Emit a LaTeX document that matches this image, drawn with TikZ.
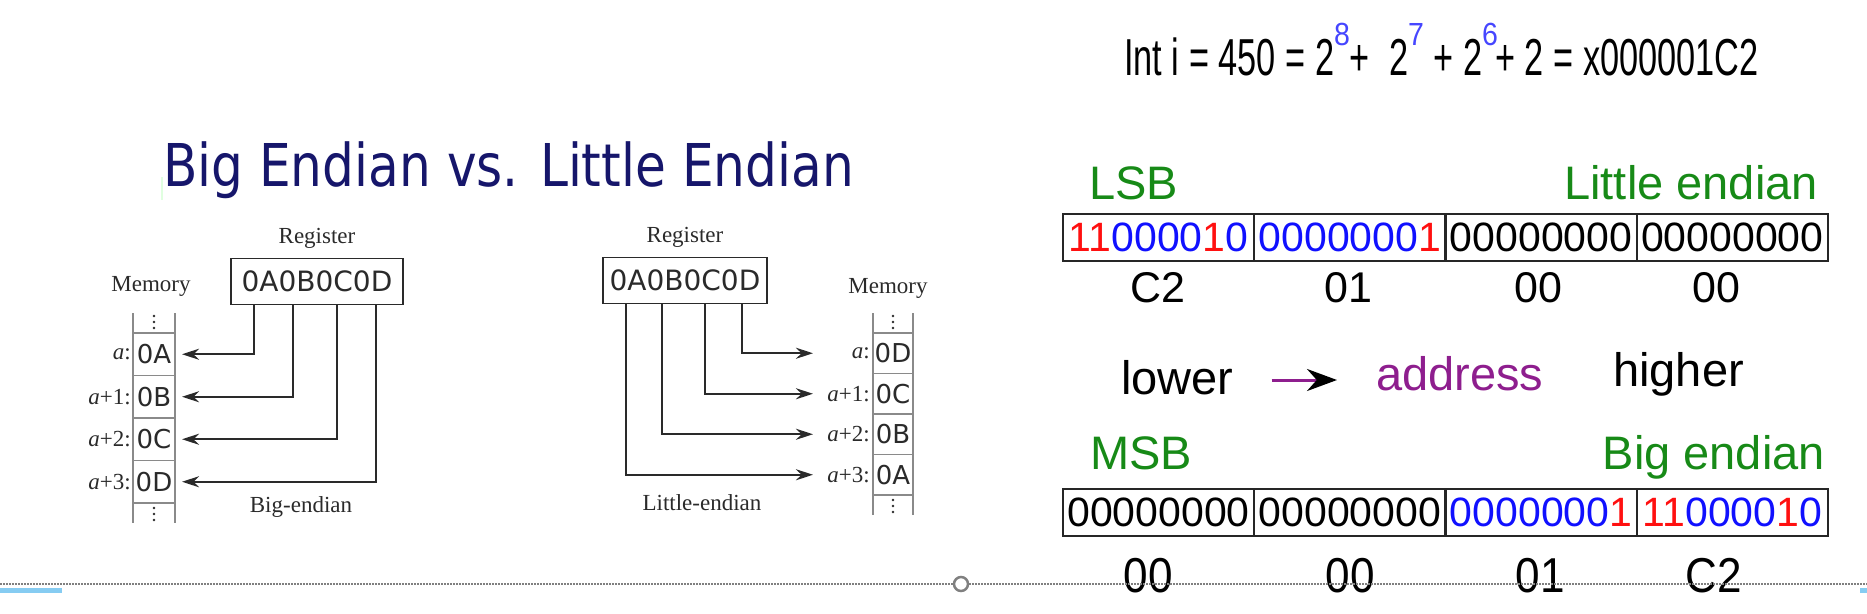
\documentclass[tikz,border=0pt]{standalone}
\usepackage{fontspec}
\setmainfont{Liberation Sans}
\newfontfamily\memfont{Liberation Serif}
\newfontfamily\hexfont{DejaVu Sans}
\usetikzlibrary{positioning, arrows.meta}
\definecolor{titlenavy}{HTML}{16166B}
\definecolor{memgray}{HTML}{8A8A8A}
\definecolor{memtext}{HTML}{2A2A2A}
\definecolor{lsbgreen}{HTML}{178A17}
\definecolor{bitred}{HTML}{FF1010}
\definecolor{bitblue}{HTML}{1010FF}
\definecolor{supblue}{HTML}{4646FF}
\definecolor{addrpurple}{HTML}{8E1E8E}
\definecolor{handleblue}{HTML}{86CCF2}
\newcommand{\fsz}[1]{\fontsize{#1}{#1}\selectfont}
\newcommand{\rd}[1]{\textcolor{bitred}{#1}}
\newcommand{\bl}[1]{\textcolor{bitblue}{#1}}
\newcommand{\pw}[1]{\raisebox{30pt}{\scalebox{1.35}[1]{\textcolor{supblue}{\fsz{32}#1}}}}
\tikzstyle{regbox} = [rectangle, draw=memtext, line width=1.4pt, fill=white, font=\hexfont\fsz{28}, text=memtext, minimum height=46pt, inner sep=0pt]
\tikzstyle{memcell} = [rectangle, draw=memgray, line width=1.3pt, font=\hexfont\fsz{26}, text=memtext, inner sep=0pt, outer sep=0pt]
\tikzstyle{memlabel} = [font=\memfont\fsz{23}, text=memtext, inner sep=0pt]
\tikzstyle{memline} = [draw=memgray, line width=1.3pt]
\tikzstyle{memdot} = [fill=memtext]
\tikzstyle{memarrow} = [draw=memtext, line width=1.6pt, -{Stealth[length=17pt,width=11pt]}]
\tikzstyle{bytecell} = [rectangle, draw=black!85, line width=2.4pt, minimum width=191.25pt, minimum height=47pt, inner sep=0pt, outer sep=0pt, font=\fsz{41}]
\tikzstyle{greenlabel} = [font=\fsz{47}, text=lsbgreen, inner sep=0pt]
\tikzstyle{hexlabel} = [font=\fsz{43}, inner sep=0pt]
\tikzstyle{bighexlabel} = [font=\fsz{49}, inner sep=0pt]
\tikzstyle{addrlabel} = [font=\fsz{47}, inner sep=0pt]
\tikzstyle{addrarrow} = [draw=addrpurple, line width=3pt, -{Stealth[length=30pt,width=22pt,color=black]}]
\begin{document}
\begin{tikzpicture}[x=1pt, y=-1pt]
    \useasboundingbox (0,0) rectangle (1867,613);
    \node[anchor=base west, inner sep=0pt, text=titlenavy] (title) at (163,186) {\scalebox{0.85}[1]{\hexfont\fsz{59}Big Endian vs. Little Endian}};
    \draw[green!12, line width=2pt] (162,177) -- (162,200);

    \node[regbox, minimum width=172pt] (bigReg) at (317,281.5) {0A0B0C0D};
    \node[memlabel, above=9pt of bigReg] (bigRegName) {Register};
    \node[memlabel] (bigMem) at (151,286) {Memory};
    \node[memcell, minimum width=42pt, minimum height=42.5pt] (bigA) at (154,354.25) {0A};
    \node[memcell, minimum width=42pt, minimum height=42.5pt, below=0pt of bigA] (bigB) {0B};
    \node[memcell, minimum width=42pt, minimum height=42.5pt, below=0pt of bigB] (bigC) {0C};
    \node[memcell, minimum width=42pt, minimum height=42.5pt, below=0pt of bigC] (bigD) {0D};
    \draw[memline] (bigA.north west) -- ++(0,-20) (bigA.north east) -- ++(0,-20);
    \draw[memline] (bigD.south west) -- ++(0,20) (bigD.south east) -- ++(0,20);
    \foreach \dy in {5,11,17} {
        \fill[memdot] ([yshift=\dy pt]bigA.north) circle (1.4pt);
        \fill[memdot] ([yshift=-\dy pt]bigD.south) circle (1.4pt);
    }
    \node[memlabel, anchor=east] at ([xshift=-2pt]bigA.west) {\textit{a}:};
    \node[memlabel, anchor=east] at ([xshift=-2pt]bigB.west) {\textit{a}+1:};
    \node[memlabel, anchor=east] at ([xshift=-2pt]bigC.west) {\textit{a}+2:};
    \node[memlabel, anchor=east] at ([xshift=-2pt]bigD.west) {\textit{a}+3:};
    \node[memlabel] (bigName) at (301,507) {Big-endian};
    \draw[memarrow] ([xshift=-63pt]bigReg.south) |- ([xshift=7pt]bigA.east);
    \draw[memarrow] ([xshift=-24pt]bigReg.south) |- ([xshift=7pt]bigB.east);
    \draw[memarrow] ([xshift=20pt]bigReg.south) |- ([xshift=7pt]bigC.east);
    \draw[memarrow] ([xshift=59pt]bigReg.south) |- ([xshift=7pt]bigD.east);

    \node[regbox, minimum width=164pt] (litReg) at (685,280.5) {0A0B0C0D};
    \node[memlabel, above=9pt of litReg] (litRegName) {Register};
    \node[memlabel] (litMem) at (888,288) {Memory};
    \node[memcell, minimum width=40pt, minimum height=40.5pt] (litA) at (893,353.25) {0D};
    \node[memcell, minimum width=40pt, minimum height=40.5pt, below=0pt of litA] (litB) {0C};
    \node[memcell, minimum width=40pt, minimum height=40.5pt, below=0pt of litB] (litC) {0B};
    \node[memcell, minimum width=40pt, minimum height=40.5pt, below=0pt of litC] (litD) {0A};
    \draw[memline] (litA.north west) -- ++(0,-20) (litA.north east) -- ++(0,-20);
    \draw[memline] (litD.south west) -- ++(0,20) (litD.south east) -- ++(0,20);
    \foreach \dy in {5,11,17} {
        \fill[memdot] ([yshift=\dy pt]litA.north) circle (1.4pt);
        \fill[memdot] ([yshift=-\dy pt]litD.south) circle (1.4pt);
    }
    \node[memlabel, anchor=east] at ([xshift=-3pt]litA.west) {\textit{a}:};
    \node[memlabel, anchor=east] at ([xshift=-3pt]litB.west) {\textit{a}+1:};
    \node[memlabel, anchor=east] at ([xshift=-3pt]litC.west) {\textit{a}+2:};
    \node[memlabel, anchor=east] at ([xshift=-3pt]litD.west) {\textit{a}+3:};
    \node[memlabel] (litName) at (702,503) {Little-endian};
    \draw[memarrow] ([xshift=57pt]litReg.south) |- ([xshift=-60pt]litA.west);
    \draw[memarrow] ([xshift=20pt]litReg.south) |- ([xshift=-60pt]litB.west);
    \draw[memarrow] ([xshift=-23pt]litReg.south) |- ([xshift=-60pt]litC.west);
    \draw[memarrow] ([xshift=-59pt]litReg.south) |- ([xshift=-60pt]litD.west);

    \node[anchor=base west, inner sep=0pt] (formula) at (1124,75) {\scalebox{0.66}[1]{\fsz{52}Int i = 450 = 2\pw{8}+\ \ 2\pw{7} + 2\pw{6}\kern-4pt+ 2 = x000001C2}};

    \node[greenlabel, anchor=base west] (lsb) at (1089,199) {LSB};
    \node[greenlabel, anchor=base east] (littleName) at (1818,199) {Little endian};
    \node[bytecell] (le1) at (1158.6,237.5) {\rd{11}\bl{0000}\rd{1}\bl{0}};
    \node[bytecell, right=0pt of le1] (le2) {\bl{0000000}\rd{1}};
    \node[bytecell, right=0pt of le2] (le3) {00000000};
    \node[bytecell, right=0pt of le3] (le4) {00000000};
    \node[hexlabel] (leHex1) at (1158,288) {C2};
    \node[hexlabel] (leHex2) at (1348,288) {01};
    \node[hexlabel] (leHex3) at (1538,288) {00};
    \node[hexlabel] (leHex4) at (1716,288) {00};

    \node[addrlabel, anchor=base west] (lower) at (1121,394) {lower};
    \node[addrlabel, anchor=base west, text=addrpurple] (address) at (1376,390) {address};
    \node[addrlabel, anchor=base west] (higher) at (1613,386) {higher};
    \draw[addrarrow] ([xshift=38pt,yshift=14pt]lower.base east) -- ([xshift=-39pt,yshift=10pt]address.base west);

    \node[greenlabel, anchor=base west] (msb) at (1090,469) {MSB};
    \node[greenlabel, anchor=base east] (bigEndName) at (1825,469) {Big endian};
    \node[bytecell] (be1) at (1158.6,512.5) {00000000};
    \node[bytecell, right=0pt of be1] (be2) {00000000};
    \node[bytecell, right=0pt of be2] (be3) {\bl{0000000}\rd{1}};
    \node[bytecell, right=0pt of be3] (be4) {\rd{11}\bl{0000}\rd{1}\bl{0}};
    \node[bighexlabel] (beHex1) at (1148,576) {\scalebox{0.9}[1]{00}};
    \node[bighexlabel] (beHex2) at (1350,576) {\scalebox{0.9}[1]{00}};
    \node[bighexlabel] (beHex3) at (1540,576) {\scalebox{0.9}[1]{01}};
    \node[bighexlabel] (beHex4) at (1714,576) {\scalebox{0.9}[1]{C2}};

    \draw[gray, line width=1.3pt, dash pattern=on 1.5pt off 1.5pt] (0,584) -- (1867,584);
    \node[circle, draw=gray, line width=2.5pt, fill=white, minimum size=14pt, inner sep=0pt] (handle) at (961,584) {};
    \fill[handleblue] (0,588) rectangle (62,593);
    \fill[handleblue] (1860,588) rectangle (1867,593);
\end{tikzpicture}
\end{document}
